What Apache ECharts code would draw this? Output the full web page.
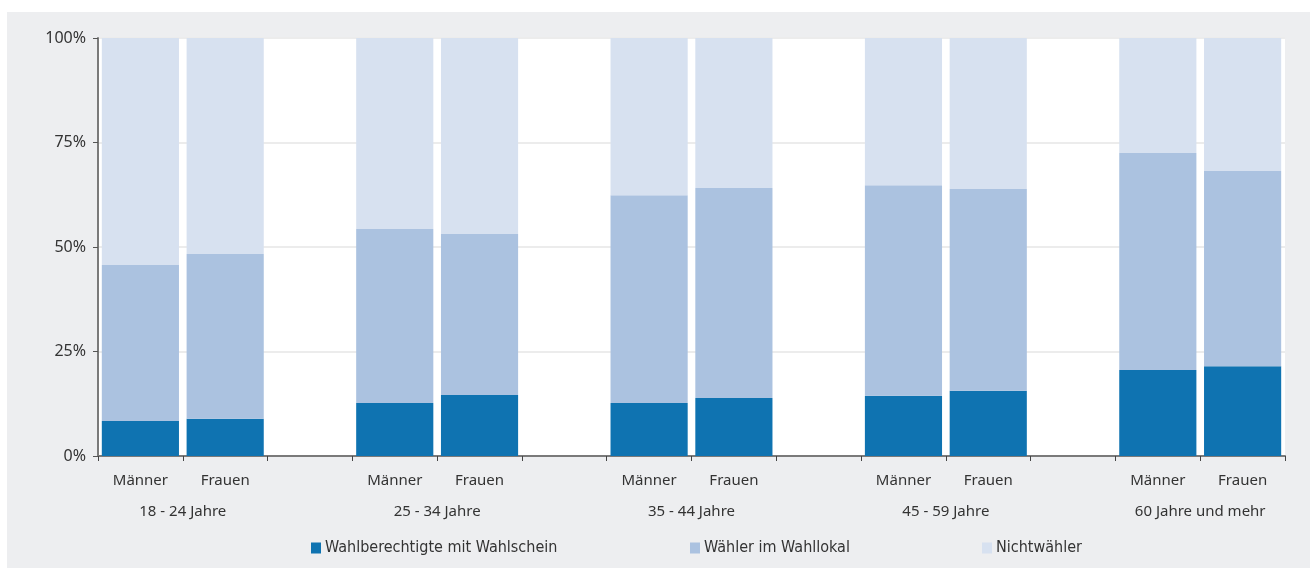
<!DOCTYPE html>
<html>
<head>
<meta charset="utf-8">
<script src="https://cdn.jsdelivr.net/npm/echarts@6/dist/echarts.min.js"></script>
<style>
html,body{margin:0;padding:0;background:#fff;}
#c{width:1310px;height:568px;}
</style>
</head>
<body>
<div id="c"></div>
<script>
// categories (gap slots between age groups are empty)
const categories = ['Männer','Frauen','','Männer','Frauen','','Männer','Frauen','','Männer','Frauen','','Männer','Frauen'];
const groups = ['18 - 24 Jahre','25 - 34 Jahre','35 - 44 Jahre','45 - 59 Jahre','60 Jahre und mehr'];
const yTicks = ['0%','25%','50%','75%','100%'];
// share of eligible voters (percent) per bar; null = gap slot
const wahlschein = [8.4, 8.9, null, 12.7, 14.6, null, 12.7, 13.9, null, 14.4, 15.6, null, 20.6, 21.5];
const wahllokal  = [37.3, 39.4, null, 41.6, 38.5, null, 49.7, 50.2, null, 50.4, 48.3, null, 51.9, 46.7];
const nicht      = [54.3, 51.7, null, 45.7, 46.9, null, 37.6, 35.9, null, 35.2, 36.1, null, 27.5, 31.8];
const seriesNames = ['Wahlberechtigte mit Wahlschein','Wähler im Wahllokal','Nichtwähler'];
const colors = ['#0f73b1','#abc2e0','#d7e1f0'];

const chart = echarts.init(document.getElementById('c'), null, {renderer:'canvas'});
const font = "'Noto Sans', 'DejaVu Sans', sans-serif";
const narrow = "'Liberation Sans Narrow', 'DejaVu Sans Condensed', sans-serif";
const vals = [wahlschein, wahllokal, nicht];
const legendLefts = [306, 685, 977];

chart.setOption({
  animation: false,
  backgroundColor: '#ffffff',
  color: colors,
  graphic: [{
    type: 'rect', left: 7, top: 12, z: -10,
    shape: {width: 1303, height: 556},
    style: {fill: '#edeef0'}
  }],
  grid: {left: 98, right: 25, top: 38, bottom: 112, show: true, backgroundColor: '#ffffff', borderWidth: 0},
  legend: seriesNames.map((n, i) => ({
    data: [n], left: legendLefts[i], top: 535, itemWidth: 10, itemHeight: 11, itemGap: 4,
    icon: 'rect', selectedMode: false,
    textStyle: {fontFamily: narrow, fontSize: 16, color: '#333', padding: [0,0,0,-1]}
  })),
  xAxis: [{
    type: 'category', data: categories, gridIndex: 0,
    axisLine: {lineStyle: {color: '#7a7a7a', width: 2}},
    axisTick: {show: true, length: 5, alignWithLabel: false, interval: 0, lineStyle: {color: '#444', width: 1}},
    axisLabel: {interval: 0, margin: 17, fontFamily: font, fontSize: 15, color: '#333'}
  }, {
    type: 'value', min: 0, max: 14, interval: 1, gridIndex: 0, position: 'bottom',
    axisLine: {show: false}, axisTick: {show: false}, splitLine: {show: false},
    axisLabel: {
      margin: 48, fontFamily: font, fontSize: 15, color: '#333', showMinLabel: true, showMaxLabel: true,
      formatter: v => { const i = (v - 1) / 3; return Number.isInteger(i) && groups[i] ? groups[i] : ''; }
    }
  }],
  yAxis: {
    type: 'value', min: 0, max: 100, interval: 25,
    axisLine: {show: true, lineStyle: {color: '#7a7a7a', width: 2}},
    axisTick: {show: true, length: 5, lineStyle: {color: '#555', width: 1}},
    axisLabel: {margin: 12, fontFamily: font, fontSize: 16, color: '#333',
      formatter: v => yTicks[v / 25]},
    splitLine: {show: true, lineStyle: {color: '#ececec', width: 2}}
  },
  series: seriesNames.map((n, i) => ({
    name: n, type: 'bar', stack: 'all', xAxisIndex: 0, barWidth: '91%',
    data: vals[i], itemStyle: {color: colors[i]}
  }))
});
</script>
</body>
</html>
